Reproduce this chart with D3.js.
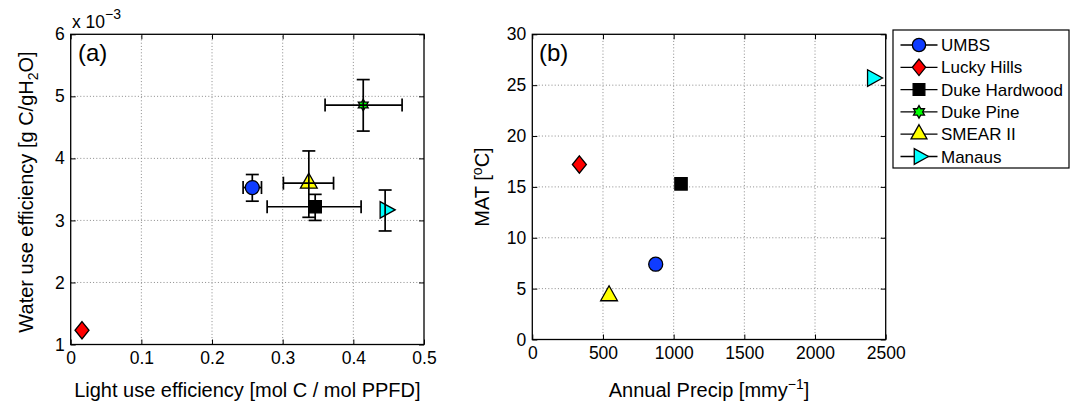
<!DOCTYPE html>
<html>
<head>
<meta charset="utf-8">
<script src="https://cdn.jsdelivr.net/npm/d3@7"></script>
<style>
  html, body { margin: 0; padding: 0; background: #fff; }
  svg { display: block; font-family: "Liberation Sans", Arial, Helvetica, sans-serif; }
</style>
</head>
<body>
<svg id="chart" width="1077" height="404"></svg>
<script>
// ---------------- DATA ----------------
const sites = ["UMBS", "Lucky Hills", "Duke Hardwood", "Duke Pine", "SMEAR II", "Manaus"];
// Panel (a): light use efficiency [mol C / mol PPFD]
const lue   = [0.257, 0.016, 0.346, 0.414, 0.337, 0.445];
const lueLo = [0.244, null,  0.278, 0.360, 0.301, null];
const lueHi = [0.270, null,  0.411, 0.469, 0.372, null];
// Panel (a): water use efficiency (x 10^-3)
const wue   = [3.53, 1.23, 3.22, 4.86, 3.60, 3.17];
const wueLo = [3.31, null, 3.00, 4.44, 3.05, 2.83];
const wueHi = [3.74, null, 3.42, 5.27, 4.12, 3.49];
// Panel (b): annual precipitation [mm/y] and MAT [°C]
const precip = [873, 333, 1052, null, 543, 2407];
const mat    = [7.4, 17.2, 15.3, null, 4.3, 25.7];
// Tick values
const xTicksA = [0, 0.1, 0.2, 0.3, 0.4, 0.5];
const yTicksA = [1, 2, 3, 4, 5, 6];
const xTicksB = [0, 500, 1000, 1500, 2000, 2500];
const yTicksB = [0, 5, 10, 15, 20, 25, 30];

// ---------------- STYLE ----------------
const fills  = ["#0f3cff", "#ff0000", "#000000", "#00ff00", "#ffff00", "#00ffff"];
const shapes = ["circle", "diamond", "square", "hexagram", "triUp", "triRight"];
const errOnTop = [false, true, true, true, true, true];

const FONT_TICK = 17.5, FONT_LABEL = 20, FONT_LEG = 17, FONT_PANEL = 24;

const svg = d3.select("#chart");

function markerPath(shape, s) {
  const p = d3.path();
  if (shape === "circle") {
    p.arc(0, 0, s / 2, 0, 2 * Math.PI);
  } else if (shape === "diamond") {
    const w = s * 0.5, h = s * 0.62;
    p.moveTo(0, -h); p.lineTo(w, 0); p.lineTo(0, h); p.lineTo(-w, 0); p.closePath();
  } else if (shape === "square") {
    const h = s * 0.44;
    p.rect(-h, -h, 2 * h, 2 * h);
  } else if (shape === "hexagram") {
    const R = s * 0.44, r = R / Math.sqrt(3);
    for (let k = 0; k < 12; k++) {
      const a = -Math.PI / 2 + k * Math.PI / 6;
      const rr = k % 2 === 0 ? R : r;
      const x = rr * Math.cos(a), y = rr * Math.sin(a);
      if (k === 0) p.moveTo(x, y); else p.lineTo(x, y);
    }
    p.closePath();
  } else if (shape === "triUp") {
    const w = s * 1.12, h = s * 1.0;
    p.moveTo(0, -2 * h / 3); p.lineTo(w / 2, h / 3); p.lineTo(-w / 2, h / 3); p.closePath();
  } else if (shape === "triRight") {
    const w = s * 1.0, h = s * 1.1;
    p.moveTo(2 * w / 3, 0); p.lineTo(-w / 3, h / 2); p.lineTo(-w / 3, -h / 2); p.closePath();
  }
  return p.toString();
}
const markerSize = [14, 14, 14, 13, 15, 15];

function drawFrame(g, x, y, xTicks, yTicks, xFmt, yFmt) {
  const [x0, x1] = x.range(), [y0, y1] = y.range();
  const grid = g.append("g").attr("stroke", "#8a8a8a").attr("stroke-width", 1).attr("stroke-dasharray", "1,2.2");
  xTicks.slice(1, -1).forEach(t => grid.append("line").attr("x1", x(t)).attr("x2", x(t)).attr("y1", y0).attr("y2", y1));
  yTicks.slice(1, -1).forEach(t => grid.append("line").attr("x1", x0).attr("x2", x1).attr("y1", y(t)).attr("y2", y(t)));
  const ax = (gen, tr) => {
    const a = g.append("g").attr("transform", tr).call(gen);
    a.select(".domain").remove();
    a.selectAll(".tick line").attr("stroke", "#000").attr("stroke-width", 1);
    a.selectAll("text").attr("fill", "#000").attr("font-size", FONT_TICK).attr("font-family", "Liberation Sans, Arial, sans-serif");
    return a;
  };
  ax(d3.axisBottom(x).tickValues(xTicks).tickFormat(xFmt).tickSizeInner(-5).tickSizeOuter(0).tickPadding(7), `translate(0,${y0})`);
  ax(d3.axisTop(x).tickValues(xTicks).tickFormat("").tickSizeInner(-5).tickSizeOuter(0), `translate(0,${y1})`);
  ax(d3.axisLeft(y).tickValues(yTicks).tickFormat(yFmt).tickSizeInner(-5).tickSizeOuter(0).tickPadding(6), `translate(${x0},0)`);
  ax(d3.axisRight(y).tickValues(yTicks).tickFormat("").tickSizeInner(-5).tickSizeOuter(0), `translate(${x1},0)`);
  g.append("rect").attr("x", x0).attr("y", y1).attr("width", x1 - x0).attr("height", y0 - y1)
    .attr("fill", "none").attr("stroke", "#000").attr("stroke-width", 1.3);
}

// ---------------- PANEL (a) ----------------
const xA = d3.scaleLinear().domain([0, 0.5]).range([70.7, 424]);
const yA = d3.scaleLinear().domain([1, 6]).range([344.5, 34.3]);
const gA = svg.append("g");
drawFrame(gA, xA, yA, xTicksA, yTicksA, d3.format("~g"), d3.format("d"));

function drawErr(g, i) {
  const eg = g.append("g").attr("stroke", "#000").attr("stroke-width", 1.7).attr("fill", "none");
  const cap = 6.5;
  if (wueLo[i] != null) {
    const cx = xA(lue[i]);
    eg.append("line").attr("x1", cx).attr("x2", cx).attr("y1", yA(wueLo[i])).attr("y2", yA(wueHi[i]));
    eg.append("line").attr("x1", cx - cap).attr("x2", cx + cap).attr("y1", yA(wueLo[i])).attr("y2", yA(wueLo[i]));
    eg.append("line").attr("x1", cx - cap).attr("x2", cx + cap).attr("y1", yA(wueHi[i])).attr("y2", yA(wueHi[i]));
  }
  if (lueLo[i] != null) {
    const cy = yA(wue[i]);
    eg.append("line").attr("y1", cy).attr("y2", cy).attr("x1", xA(lueLo[i])).attr("x2", xA(lueHi[i]));
    eg.append("line").attr("y1", cy - cap).attr("y2", cy + cap).attr("x1", xA(lueLo[i])).attr("x2", xA(lueLo[i]));
    eg.append("line").attr("y1", cy - cap).attr("y2", cy + cap).attr("x1", xA(lueHi[i])).attr("x2", xA(lueHi[i]));
  }
}
function drawMarker(g, shape, fill, cx, cy, s) {
  g.append("path").attr("d", markerPath(shape, s)).attr("transform", `translate(${cx},${cy})`)
    .attr("fill", fill).attr("stroke", "#000").attr("stroke-width", 1.3);
}
sites.forEach((s, i) => {
  if (!errOnTop[i]) drawErr(gA, i);
  drawMarker(gA, shapes[i], fills[i], xA(lue[i]), yA(wue[i]), markerSize[i]);
  if (errOnTop[i]) drawErr(gA, i);
});

// exponent label
const expT = gA.append("text").attr("x", 72).attr("y", 28).attr("font-size", 17.5).attr("fill", "#000");
expT.append("tspan").text("x 10");
expT.append("tspan").attr("dy", -9).attr("font-size", 14).text("\u22123");

gA.append("text").attr("x", 78).attr("y", 61).attr("font-size", FONT_PANEL).text("(a)");

gA.append("text").attr("x", (70.7 + 424) / 2).attr("y", 397).attr("text-anchor", "middle")
  .attr("font-size", FONT_LABEL).text("Light use efficiency [mol C / mol PPFD]");
const ylA = gA.append("text").attr("transform", "translate(33,192) rotate(-90)").attr("text-anchor", "middle")
  .attr("font-size", FONT_LABEL);
ylA.append("tspan").text("Water use efficiency [g C/gH");
ylA.append("tspan").attr("font-size", 14).attr("dy", 5).text("2");
ylA.append("tspan").attr("dy", -5).text("O]");

// ---------------- PANEL (b) ----------------
const xB = d3.scaleLinear().domain([0, 2500]).range([532.3, 885.7]);
const yB = d3.scaleLinear().domain([0, 30]).range([339.5, 34.3]);
const gB = svg.append("g");
drawFrame(gB, xB, yB, xTicksB, yTicksB, d3.format("d"), d3.format("d"));
sites.forEach((s, i) => {
  if (precip[i] == null) return;
  drawMarker(gB, shapes[i], fills[i], xB(precip[i]), yB(mat[i]), markerSize[i]);
});
gB.append("text").attr("x", 539).attr("y", 61).attr("font-size", FONT_PANEL).text("(b)");
const xlB = gB.append("text").attr("x", (532.3 + 885.7) / 2).attr("y", 397).attr("text-anchor", "middle")
  .attr("font-size", FONT_LABEL);
xlB.append("tspan").text("Annual Precip [mmy");
xlB.append("tspan").attr("dy", -8).attr("font-size", 14).text("\u22121");
xlB.append("tspan").attr("dy", 8).text("]");
const ylB = gB.append("text").attr("transform", "translate(489,187) rotate(-90)").attr("text-anchor", "middle")
  .attr("font-size", FONT_LABEL);
ylB.append("tspan").text("MAT [");
ylB.append("tspan").attr("dy", -7).attr("font-size", 14).text("o");
ylB.append("tspan").attr("dy", 7).text("C]");

// ---------------- LEGEND ----------------
const leg = svg.append("g");
leg.append("rect").attr("x", 893).attr("y", 30).attr("width", 176).attr("height", 138)
  .attr("fill", "#fff").attr("stroke", "#000").attr("stroke-width", 1.2);
sites.forEach((s, i) => {
  const cy = 45 + i * 22.3;
  leg.append("line").attr("x1", 900.5).attr("x2", 937.5).attr("y1", cy).attr("y2", cy)
    .attr("stroke", "#000").attr("stroke-width", 1.3);
  drawMarker(leg, shapes[i], fills[i], 919, cy, markerSize[i] * (shapes[i] === "hexagram" ? 1.1 : 0.95));
  leg.append("text").attr("x", 941).attr("y", cy + 6).attr("font-size", FONT_LEG).text(s);
});
</script>
</body>
</html>
